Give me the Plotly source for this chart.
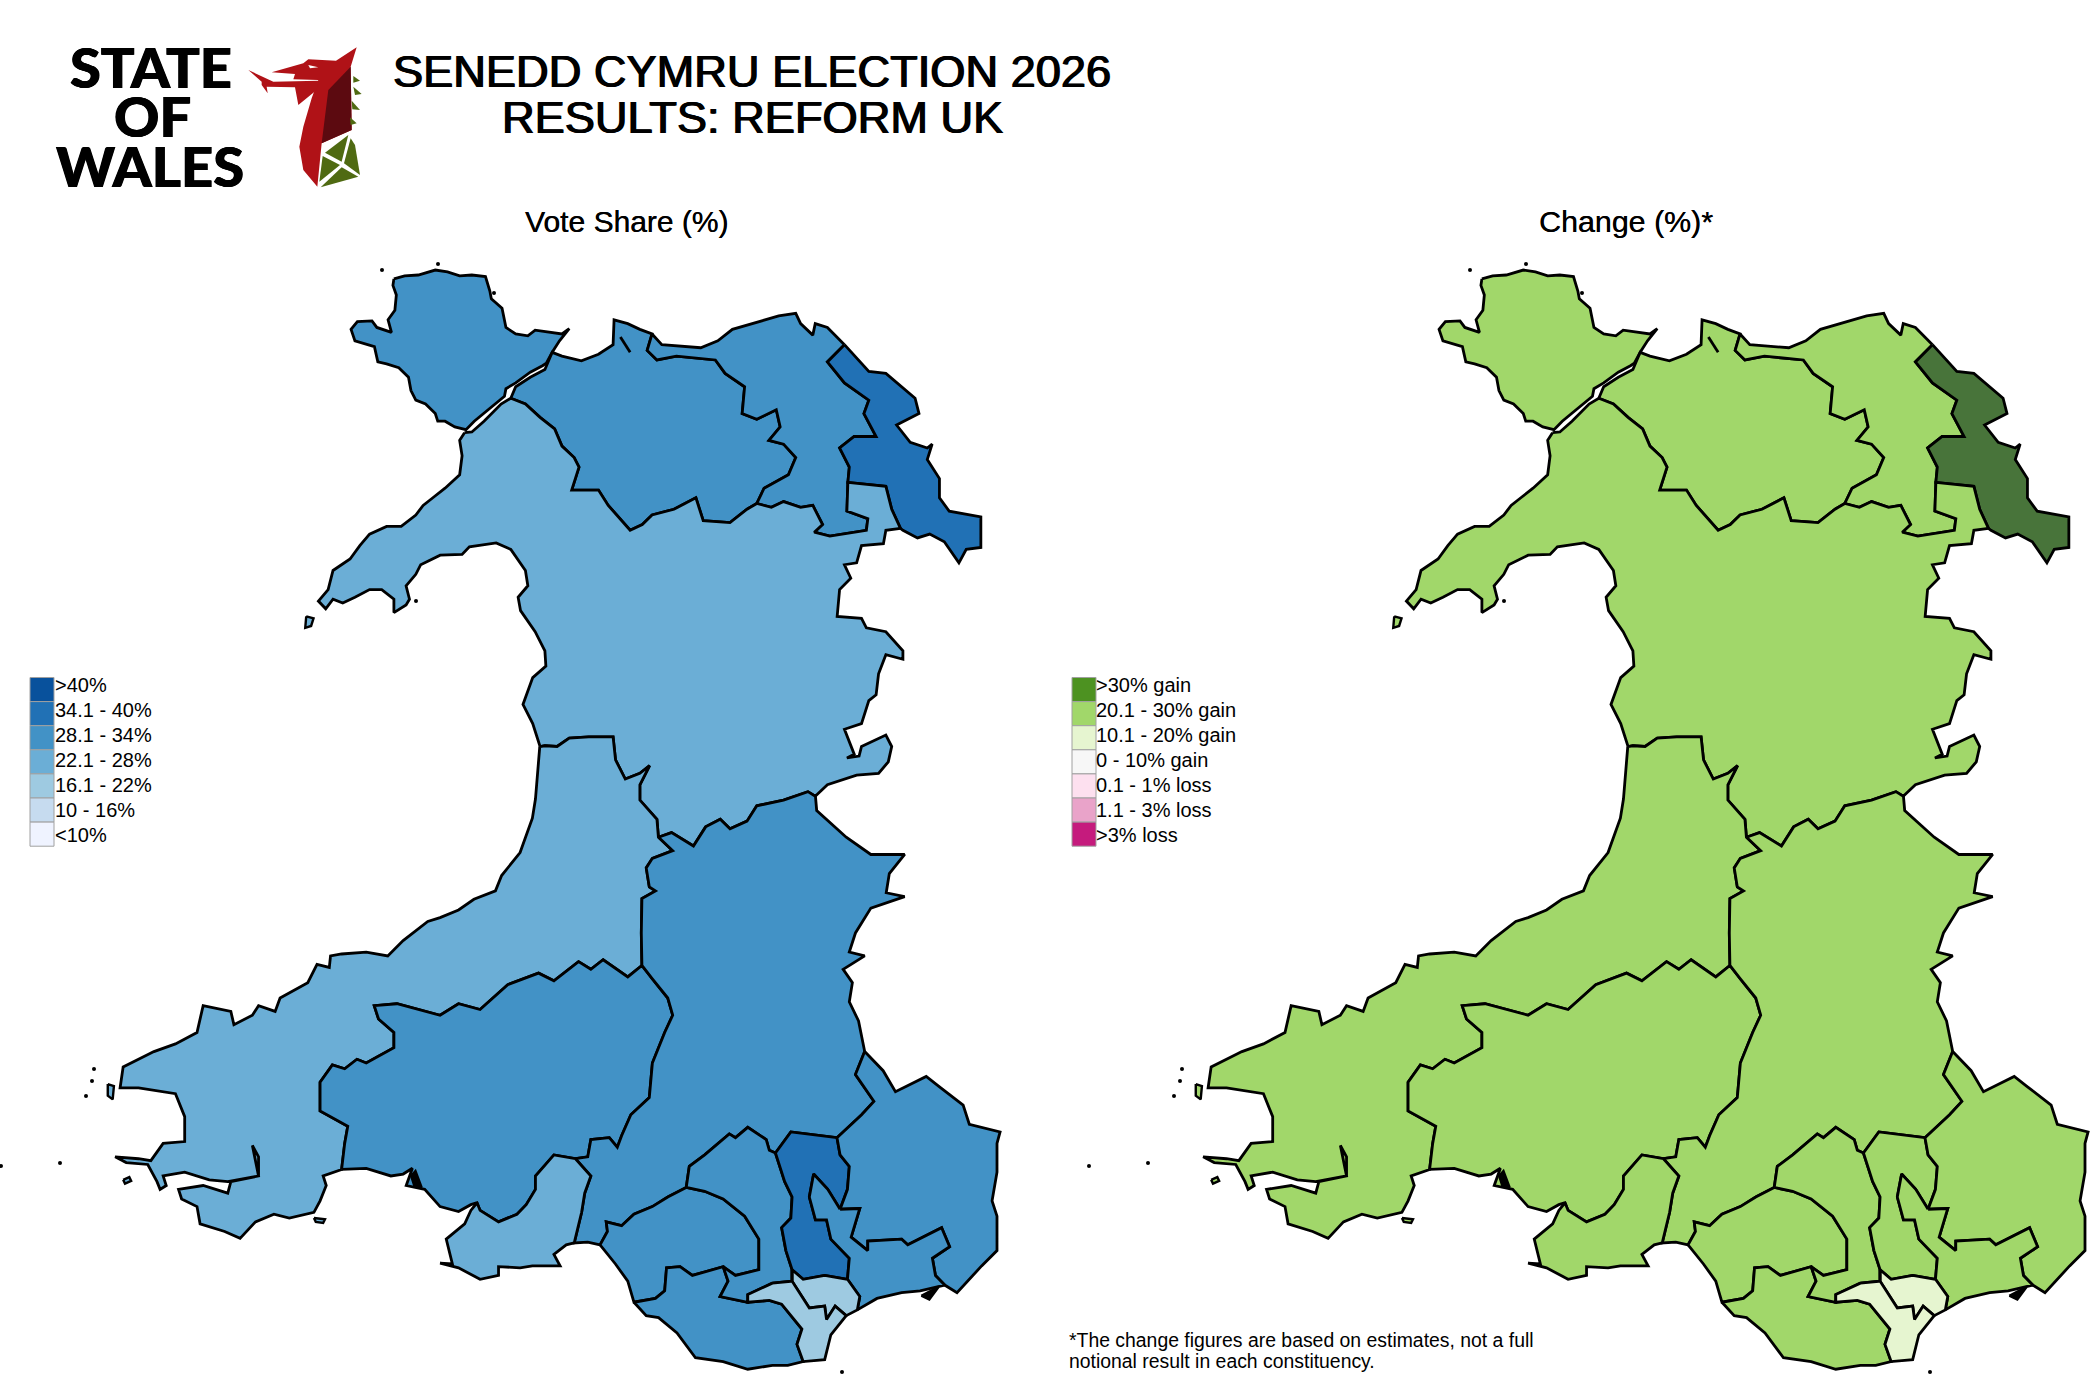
import plotly.graph_objects as go

# legend bands
vote_labels = ['>40%', '34.1 - 40%', '28.1 - 34%', '22.1 - 28%', '16.1 - 22%', '10 - 16%', '<10%']
vote_colors = ['#08519c', '#2171b5', '#4292c6', '#6baed6', '#9ecae1', '#c6dbef', '#eff3ff']
change_labels = ['>30% gain', '20.1 - 30% gain', '10.1 - 20% gain', '0 - 10% gain', '0.1 - 1% loss', '1.1 - 3% loss', '>3% loss']
change_colors = ['#4d9221', '#a1d76a', '#e6f5d0', '#f7f7f7', '#fde0ef', '#e9a3c9', '#c51b7d']

def north(pts):
    return [(280 + x / 2.053, 250 + y / 2.613) for x, y in pts]

def south(pts):
    return [(80 + x / 1.625, 800 + y / 2.613) for x, y in pts]

# north wales boundaries
anglesey = north([(240,78),(262,70),(290,68),(325,55),(350,60),(375,70),(400,68),(428,72),(437,110),(440,130),(462,155),(470,205),(490,222),(515,227),(530,212),(560,218),(585,222),(600,208),(580,240),(565,270),(553,298),(545,305),(520,322),(490,350),(470,365),(467,385),(448,405),(425,430),(405,450),(388,472),(365,465),(345,450),(330,450),(325,430),(305,405),(285,395),(275,370),(270,335),(250,310),(225,300),(207,295),(200,255),(175,245),(160,240),(152,210),(165,190),(195,188),(205,205),(235,218),(228,185),(242,160),(245,120),(238,95)])
menai_south = north([(385,480),(400,478),(425,450),(460,405),(480,390)])
west_coast_north = north([(385,480),(375,500),(380,540),(375,590),(345,625),(320,650),(300,670),(285,695),(255,725),(225,725),(190,745),(170,775),(150,810),(115,840),(105,890),(85,920),(100,940),(115,915),(135,925),(160,910),(190,890),(215,890),(240,915),(240,950),(265,930),(272,915),(265,880),(285,850),(295,825),(335,800),(380,798),(395,778),(450,768),(480,785),(510,840),(515,880),(495,910),(500,945),(530,1000),(550,1050),(552,1090),(525,1120),(505,1190),(525,1240),(540,1300)])
gwynedd_ceredigion = north([(540,1300),(550,1298),(575,1300),(600,1278),(640,1275),(690,1275),(695,1335),(715,1385),(745,1370),(765,1350),(745,1400),(745,1440),(780,1490),(783,1537)])
gwynedd_brecon = north([(783,1537),(810,1525),(855,1560),(880,1510),(910,1490),(930,1515),(965,1495),(985,1455),(1040,1440),(1090,1418),(1105,1430)])
menai_coast = north([(480,390),(490,360),(520,335),(550,315),(560,285),(565,270),(585,280),(625,292),(660,275),(690,250),(692,185),(720,195),(745,210),(770,222)])
conwy_gwynedd = north([(480,390),(510,405),(540,440),(570,470),(585,515),(610,545),(620,570),(605,630),(660,630),(680,670),(725,735),(750,720),(770,695),(815,680),(860,650),(875,710),(930,715),(965,680),(985,665)])
conwy_clwyd = north([(770,222),(760,265),(780,290),(820,280),(900,290),(920,325),(960,360),(955,430),(985,445),(1025,420),(1033,465),(1010,500),(1040,510),(1065,545),(1050,590),(1000,625),(985,665)])
clwyd_gwynedd = north([(985,665),(1015,675),(1040,660),(1075,675),(1100,670),(1120,720),(1103,740),(1135,750),(1210,735),(1213,705),(1170,685),(1172,610)])
gwynedd_strip = north([(1172,610),(1250,620),(1262,680),(1280,730)])
clwyd_flint = north([(1172,610),(1175,570),(1155,520),(1185,490),(1230,490),(1205,430),(1215,395),(1165,350),(1130,295),(1165,250)])
flint_coast = north([(1165,250),(1215,320),(1250,325),(1310,390),(1318,430),(1272,460),(1300,505),(1335,520),(1345,510),(1335,550),(1360,600),(1360,650),(1380,685),(1445,700),(1445,780),(1415,785),(1400,820),(1370,765),(1340,745),(1315,755),(1285,735),(1280,730)])
clwyd_coast = north([(1165,250),(1130,205),(1105,195),(1100,225),(1075,195),(1065,168),(1030,175),(975,195),(935,210),(905,240),(870,258),(790,250),(770,222)])
gwynedd_east = north([(1280,730),(1250,735),(1245,770),(1200,775),(1190,820),(1165,825),(1178,860),(1155,890),(1150,960),(1200,965),(1210,990),(1250,1000),(1285,1050),(1285,1072),(1250,1060),(1235,1110),(1230,1165),(1215,1180),(1200,1240),(1165,1255),(1185,1320),(1170,1330),(1195,1325),(1200,1300),(1250,1270),(1262,1300),(1255,1340),(1235,1370),(1190,1375),(1130,1400),(1105,1430)])
conwy_spike = north([(705,230),(725,270)])

# south wales boundaries
west_coast_south = south([(752,-137),(745,0),(740,50),(720,140),(690,200),(680,240),(645,262),(620,290),(590,310),(570,320),(530,370),(505,410),(470,400),(430,405),(412,410),(410,440),(390,432),(375,480),(330,520),(322,555),(295,540),(285,565),(255,590),(250,555),(205,540),(195,610),(160,640),(125,660),(75,700),(70,755),(100,755),(160,770),(175,830),(175,895),(140,900),(120,945),(100,940),(62,935),(80,950),(115,955),(130,1000),(135,1020),(145,1010),(140,985),(175,975),(215,995),(245,1000),(295,985),(295,935),(285,905),(295,985),(250,1000),(245,1030),(205,1010),(165,1020),(170,1045),(195,1065),(200,1110),(240,1130),(265,1148),(290,1105),(320,1085),(345,1095),(385,1080),(395,1050),(405,1010),(400,985),(430,968)])
penfro_carms = south([(430,968),(435,900),(440,855),(395,815),(395,740),(415,695),(435,705),(455,680),(470,690),(515,650),(515,610),(490,575),(483,540),(520,535),(590,565),(620,535),(655,550),(700,485),(750,455),(775,475),(815,425),(835,445),(855,420),(895,465),(918,435)])
ceredigion_brecon = south([(945,100),(968,135),(935,155),(925,180),(930,230),(940,240),(918,260),(917,350),(918,435)])
carms_brecon = south([(918,435),(935,470),(960,520),(968,565),(955,610),(935,690),(930,780),(900,825),(885,880),(878,910),(865,885),(835,890),(830,935),(810,940)])
carms_gower = south([(810,940),(775,930),(745,985),(745,1020),(730,1060),(715,1085),(685,1105),(655,1075),(650,1055)])
carms_coast = south([(430,968),(470,965),(510,985),(530,980),(545,965),(535,1010),(565,1020),(590,1065),(620,1078),(640,1060),(650,1055)])
gower_coast = south([(650,1055),(640,1075),(630,1110),(600,1150),(610,1215),(590,1213),(620,1225),(655,1255),(685,1245),(685,1222),(720,1225),(740,1220),(785,1220),(775,1190),(795,1165),(808,1160)])
gower_brecon = south([(810,940),(835,985),(825,1030),(820,1080),(808,1160)])
brecon_coast = south([(808,1160),(830,1158),(850,1165)])
brecon_afan_a = south([(850,1165),(862,1130),(860,1105),(885,1115),(905,1085),(935,1065),(960,1040),(990,1015)])
afan_coast = south([(850,1165),(875,1215),(895,1260),(905,1315)])
afan_bro = south([(905,1315),(940,1305),(955,1285),(958,1225),(980,1222),(1000,1245),(1050,1222)])
afan_ponty = south([(1050,1222),(1070,1245),(1108,1230),(1108,1150),(1085,1090),(1050,1045),(1020,1025),(990,1015)])
ponty_brecon = south([(990,1015),(995,960),(1020,930),(1060,875),(1070,885),(1090,858),(1120,890),(1125,918),(1135,925)])
ponty_blaenau = south([(1135,925),(1150,1000),(1162,1040),(1160,1095),(1145,1120),(1152,1180),(1162,1230)])
bro_ponty = south([(1050,1222),(1058,1260),(1045,1300),(1090,1315)])
ponty_cardiff = south([(1090,1315),(1090,1295),(1130,1265),(1162,1260),(1162,1230)])
blaenau_top = south([(1135,925),(1160,870),(1235,885)])
blaenau_sirfynwy = south([(1235,885),(1240,930),(1255,960),(1252,1020),(1240,1072)])
blaenau_notch = south([(1240,1072),(1220,1020),(1197,980),(1190,1040),(1200,1100),(1218,1100),(1225,1150),(1255,1200),(1252,1255)])
blaenau_cardiff = south([(1252,1255),(1215,1245),(1180,1255),(1162,1230)])
casnewydd_sirfynwy = south([(1240,1072),(1272,1070),(1258,1145),(1285,1180),(1285,1155),(1340,1150),(1350,1165),(1405,1120),(1418,1170),(1390,1200),(1395,1245),(1410,1270)])
casnewydd_coast = south([(1410,1270),(1370,1285),(1340,1290),(1300,1305),(1268,1335)])
casnewydd_cardiff = south([(1252,1255),(1272,1300),(1268,1335)])
sirfynwy_coast = south([(1280,660),(1310,710),(1330,765),(1380,725),(1400,750),(1440,800),(1450,850),(1500,870),(1495,900),(1495,975),(1487,1050),(1495,1090),(1495,1180),(1470,1220),(1430,1290),(1410,1270)])
brecon_sirfynwy = south([(1235,885),(1275,825),(1295,790),(1265,720),(1280,660)])
brecon_east = south([(1200,-7),(1202,30),(1250,100),(1290,145),(1345,145),(1320,195),(1315,245),(1345,255),(1290,285),(1265,350),(1255,400),(1280,410),(1245,445),(1260,480),(1255,530),(1270,580),(1280,660)])
cardiff_split = south([(1162,1260),(1178,1300),(1190,1330),(1215,1325),(1218,1360),(1232,1325),(1250,1350)])
cardiff_coast = south([(1268,1335),(1250,1350),(1225,1400),(1215,1465),(1180,1470)])
cardiff_bro = south([(1180,1470),(1170,1425),(1178,1385),(1145,1320),(1125,1310),(1090,1315)])
bro_coast = south([(905,1315),(925,1350),(945,1355),(975,1395),(1005,1460),(1050,1470),(1090,1490),(1130,1480),(1155,1480),(1180,1470)])

# islands, the first ones take the colour of the mainland next to them
bardsey = north([(60,960),(75,965),(70,985),(58,990)])
skomer = south([(75,995),(85,988),(88,998),(78,1005)])
ramsey = south([(50,745),(60,750),(58,785),(50,775)])
caldey = south([(385,1095),(403,1098),(400,1108),(388,1105)])
burry = south([(543,985),(550,972),(560,1015),(548,1010)])
severn_rocks = south([(1372,1298),(1400,1275),(1385,1308)])
islets_x = [385, 441, 497, 419, 97, 95, 89, 845, 4, 63]
islets_y = [271, 265, 294, 602, 1070, 1082, 1097, 1373, 1167, 1164]

def rev(arc):
    return arc[::-1]

def ring(*arcs):
    pts = [p for arc in arcs for p in arc]
    return [p[0] for p in pts], [p[1] for p in pts]

constituencies = ['Bangor Conwy Môn', 'Bangor Conwy Môn', 'Clwyd', 'Fflint Wrecsam', 'Gwynedd Maldwyn', 'Ceredigion Penfro',
                  'Sir Gaerfyrddin', 'Brycheiniog Tawe Nedd', 'Gŵyr Abertawe', 'Afan Ogwr Rhondda', 'Pen-y-bont Bro Morgannwg',
                  'Pontypridd Cynon Merthyr', 'Blaenau Gwent Caerffili Rhymni', 'Sir Fynwy Torfaen', 'Casnewydd Islwyn',
                  'Caerdydd Ffynnon Taf', 'Caerdydd Penarth']
vote_band = [2, 2, 2, 1, 3, 3, 2, 2, 3, 2, 2, 2, 1, 2, 2, 4, 4]
change_fill = ['#a1d76a'] * 17
change_fill[3] = '#48743a'
change_fill[15] = '#e6f5d0'
change_fill[16] = '#e6f5d0'

rings = [
    ring(anglesey, anglesey[:1]),
    ring(menai_coast, conwy_clwyd, rev(conwy_gwynedd)),
    ring(clwyd_coast, conwy_clwyd, clwyd_gwynedd, clwyd_flint),
    ring(flint_coast, rev(gwynedd_strip), clwyd_flint),
    ring(menai_south, conwy_gwynedd, clwyd_gwynedd, gwynedd_strip, gwynedd_east, rev(gwynedd_brecon), rev(gwynedd_ceredigion), rev(west_coast_north)),
    ring(west_coast_south, penfro_carms, rev(ceredigion_brecon), rev(gwynedd_ceredigion)),
    ring(carms_coast, rev(carms_gower), rev(carms_brecon), rev(penfro_carms)),
    ring(gwynedd_brecon, brecon_east, rev(brecon_sirfynwy), rev(blaenau_top), rev(ponty_brecon), rev(brecon_afan_a), rev(brecon_coast), rev(gower_brecon), rev(carms_brecon), rev(ceredigion_brecon)),
    ring(gower_coast, rev(gower_brecon), carms_gower),
    ring(afan_coast, afan_bro, afan_ponty, rev(brecon_afan_a)),
    ring(bro_coast, cardiff_bro, rev(bro_ponty), rev(afan_bro)),
    ring(ponty_brecon, ponty_blaenau, rev(ponty_cardiff), rev(bro_ponty), afan_ponty),
    ring(blaenau_top, blaenau_sirfynwy, blaenau_notch, blaenau_cardiff, rev(ponty_blaenau)),
    ring(sirfynwy_coast, rev(casnewydd_sirfynwy), rev(blaenau_sirfynwy), brecon_sirfynwy),
    ring(casnewydd_sirfynwy, casnewydd_coast, rev(casnewydd_cardiff), rev(blaenau_notch)),
    ring(blaenau_cardiff, cardiff_split, cardiff_coast[:1], rev(casnewydd_cardiff)),
    ring(ponty_cardiff[2:], rev(blaenau_cardiff)[:1], cardiff_split, cardiff_coast[1:], cardiff_bro, ponty_cardiff[:3]),
]
green_islands = [bardsey, skomer, ramsey, caldey]
black_patches = [burry, severn_rocks]

def logo(pts):
    return [(40 + x / 3, 30 + y / 3) for x, y in pts]

logo_red = [
    [(950,52),(888,92),(805,88),(790,100),(695,127),(765,132),(760,148),(835,150),(815,205),(790,290),(778,350),(790,420),(832,470),(845,340),(935,300),(932,110)],
    [(835,152),(700,155),(625,120),(665,155),(665,165),(683,190),(680,170),(765,172),(775,225),(830,180)],
]
logo_dark = [[(932,110),(865,180),(845,340),(935,300)]]
logo_white = [[(805,105),(835,112),(810,115)]]
logo_green = [
    [(925,315),(855,368),(905,395)],
    [(848,378),(900,405),(838,455)],
    [(932,325),(945,345),(960,435),(912,400)],
    [(905,412),(955,440),(842,472)],
    [(940,138),(960,152),(940,158)],
    [(940,170),(965,192),(945,195)],
    [(935,212),(960,240),(937,238)],
    [(930,262),(950,280),(932,285)],
]

fig = go.Figure()

for xax, yax, fills, coast_col in [('x', 'y', [vote_colors[b] for b in vote_band], vote_colors[3]), ('x2', 'y2', change_fill, change_colors[1])]:
    for name, (xs, ys), col in zip(constituencies, rings, fills):
        fig.add_trace(go.Scatter(x=xs, y=ys, xaxis=xax, yaxis=yax, mode='lines', fill='toself', fillcolor=col,
                                 line=dict(color='black', width=2.8), name=name, hoverinfo='name', showlegend=False))
    for isl in green_islands + black_patches:
        xs, ys = ring(isl, isl[:1])
        col = 'black' if isl in black_patches else coast_col
        fig.add_trace(go.Scatter(x=xs, y=ys, xaxis=xax, yaxis=yax, mode='lines', fill='toself', fillcolor=col,
                                 line=dict(color='black', width=2.4), hoverinfo='skip', showlegend=False))
    xs, ys = ring(conwy_spike)
    fig.add_trace(go.Scatter(x=xs, y=ys, xaxis=xax, yaxis=yax, mode='lines', line=dict(color='black', width=2.8),
                             hoverinfo='skip', showlegend=False))
    fig.add_trace(go.Scatter(x=islets_x, y=islets_y, xaxis=xax, yaxis=yax, mode='markers', cliponaxis=False,
                             marker=dict(color='black', size=4), hoverinfo='skip', showlegend=False))

# the logo sits on the left map's axes, which still read in page pixels
for group, col in [(logo_red, '#b01217'), (logo_dark, '#5c0a10'), (logo_white, 'white'), (logo_green, '#4f6a12')]:
    for poly in group:
        xs, ys = ring(logo(poly), logo(poly)[:1])
        xs = [x + 3 for x in xs]
        ys = [y + 1 for y in ys]
        fig.add_trace(go.Scatter(x=xs, y=ys, mode='lines', fill='toself', fillcolor=col, line=dict(width=0),
                                 hoverinfo='skip', showlegend=False))

W, H = 2100, 1400
shapes = []
notes = []

def text(s, x, y, size, anchor='center', family='Liberation Sans', weight=None, shadow=None):
    font = dict(family=family, size=size, color='black')
    if weight:
        font['weight'] = weight
    if shadow:
        font['shadow'] = shadow
    notes.append(dict(text=s, x=x / W, y=1 - y / H, xref='paper', yref='paper', xanchor=anchor, yanchor='middle',
                      showarrow=False, font=font, align='left'))

for x0, labels, cols, gap in [(30, vote_labels, vote_colors, 23), (1072, change_labels, change_colors, 22)]:
    for i, (lab, col) in enumerate(zip(labels, cols)):
        top = 677.5 + i * 24.1
        shapes.append(dict(type='rect', xref='paper', yref='paper', x0=x0 / W, x1=(x0 + 24) / W,
                           y0=1 - top / H, y1=1 - (top + 24.1) / H, fillcolor=col, line=dict(color='#a0a0a0', width=1)))
        text(lab, x0 + gap, 685 + i * 25, 20, 'left')

thick = '0.7px 0 0 #000, -0.7px 0 0 #000'
thin = '0.3px 0 0 #000'
heavy = '0.5px 0 0 #000, -0.5px 0 0 #000'
text('SENEDD CYMRU ELECTION 2026', 752, 71, 45.2, shadow=thick)
text('RESULTS: REFORM UK', 752, 117, 45.2, shadow=thick)
text('Vote Share (%)', 626, 221, 30, shadow=thin)
text('Change (%)*', 1626, 221, 30.4, shadow=thin)
text('*The change figures are based on estimates, not a full', 1067, 1340, 19.4, 'left')
text('notional result in each constituency.', 1067, 1361, 19.4, 'left')
text('STATE', 151, 66, 56, family='Lato', weight=900, shadow=heavy)
text('OF', 152, 116, 56, family='Lato', weight=900, shadow=heavy)
text('WALES', 150, 166, 56, family='Lato', weight=900, shadow=heavy)

hidden = dict(visible=False, showgrid=False, zeroline=False, fixedrange=True)
fig.update_layout(
    width=W, height=H, margin=dict(l=0, r=0, t=0, b=0), paper_bgcolor='white', plot_bgcolor='white',
    xaxis=dict(domain=[0, 0.5], range=[3, 1053], **hidden),
    yaxis=dict(domain=[0, 1], range=[1401, 1], **hidden),
    xaxis2=dict(domain=[0.5, 1], range=[-35, 1015], anchor='y2', **hidden),
    yaxis2=dict(domain=[0, 1], range=[1401, 1], anchor='x2', **hidden),
    shapes=shapes, annotations=notes, showlegend=False,
)

fig.write_html("out.html", config={'displayModeBar': False}, post_script="document.body.style.margin='0';")
